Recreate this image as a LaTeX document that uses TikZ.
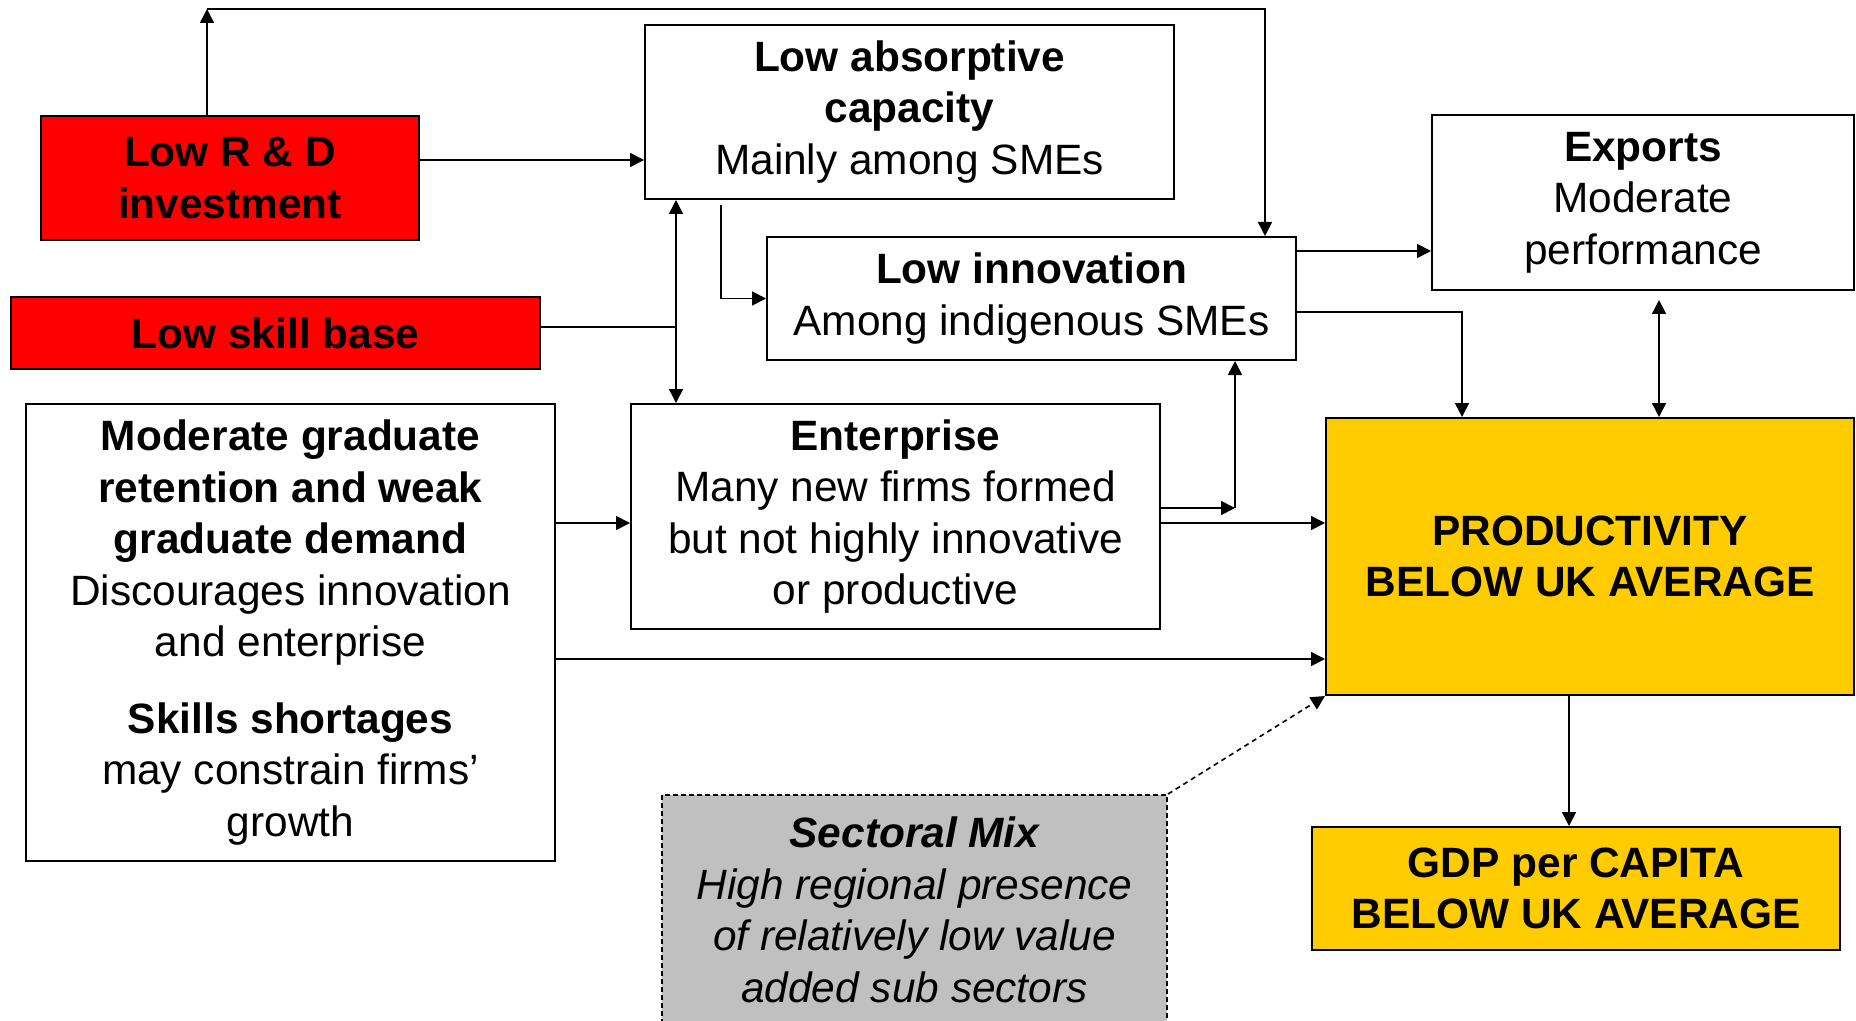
\documentclass[tikz,border=0pt]{standalone}
\usepackage{fontspec}
\setmainfont{Liberation Sans}
\usepackage{xcolor}
\usepackage{tikz}
\usetikzlibrary{arrows.meta, positioning, calc}
\definecolor{alertred}{RGB}{255, 0, 0}
\definecolor{goldyellow}{RGB}{255, 204, 0}
\definecolor{mixgray}{RGB}{192, 192, 192}

\begin{document}
\begin{tikzpicture}[
    x=0.5pt, y=-0.5pt,
    box/.style={rectangle, draw=black, line width=1pt, inner sep=0pt, align=center, font=\fontsize{21.2}{25.75}\selectfont},
    arrow/.style={-{Triangle[length=7pt, width=7pt]}, line width=0.8pt},
    dblarrow/.style={{Triangle[length=7pt, width=7pt]}-{Triangle[length=7pt, width=7pt]}, line width=0.8pt},
    link/.style={line width=0.8pt}
]
    \useasboundingbox (0,0) rectangle (1856,1021);

    % Causes on the left
    \node[box, fill=alertred, minimum width=189pt, minimum height=62pt] (rd) at (230,178) {\textbf{Low R \& D}\\\textbf{investment}};
    \node[box, fill=alertred, minimum width=264.5pt, minimum height=36pt] (skill) at (275.5,333) {\textbf{Low skill base}};
    \node[box, fill=white, minimum width=264.5pt, minimum height=228.5pt] (grad) at (290.5,632.5) {\textbf{Moderate graduate}\\\textbf{retention and weak}\\\textbf{graduate demand}\\Discourages innovation\\and enterprise\\[12.5pt]\textbf{Skills shortages}\\may constrain firms'\\growth};

    % Middle column
    \node[box, fill=white, minimum width=264.5pt, minimum height=87pt] (absorb) at (909.5,112) {\textbf{Low absorptive}\\\textbf{capacity}\\Mainly among SMEs};
    \node[box, fill=white, minimum width=264.5pt, minimum height=61.5pt] (lowinn) at (1031.5,298.5) {\textbf{Low innovation}\\Among indigenous SMEs};
    \node[box, fill=white, minimum width=264.5pt, minimum height=112.5pt] (ent) at (895.5,516.5) {\textbf{Enterprise}\\Many new firms formed\\but not highly innovative\\or productive};
    \node[box, fill=mixgray, dash pattern=on 2.5pt off 1.5pt, minimum width=252.5pt, minimum height=115pt,
          font=\fontsize{21.2}{25.75}\selectfont\itshape] (sector) at (914.5,910) {\textbf{Sectoral Mix}\\High regional presence\\of relatively low value\\added sub sectors};

    % Outcomes on the right
    \node[box, fill=white, minimum width=211pt, minimum height=87.5pt] (exports) at (1643,202.5) {\textbf{Exports}\\Moderate\\performance};
    \node[box, fill=goldyellow, minimum width=264pt, minimum height=138.5pt] (prod) at (1590,556.5) {\textbf{PRODUCTIVITY}\\\textbf{BELOW UK AVERAGE}};
    \node[box, fill=goldyellow, minimum width=264pt, minimum height=61.5pt] (gdp) at (1576,888.5) {\textbf{GDP per CAPITA}\\\textbf{BELOW UK AVERAGE}};

    % Turning points of the connectors
    \coordinate (topL) at (207,9);
    \coordinate (topR) at (1265,9);
    \coordinate (rdlvl) at (0,160);
    \coordinate (junction) at (676,327);
    \coordinate (absorbout) at (721,205);
    \coordinate (innlvl) at (0,251);
    \coordinate (innkink) at (1462,312);
    \coordinate (expx) at (1659,0);
    \coordinate (entkink) at (1235,508);
    \coordinate (entlvl) at (0,523);
    \coordinate (gradlvl) at (0,659);
    \coordinate (prodx) at (1569,0);

    % Arrows from R & D
    \draw[arrow] (topL |- rd.north) -- (topL);
    \draw[arrow] (topL) -- (topR) -- (topR |- lowinn.north);
    \draw[arrow] (rd.east |- rdlvl) -- (absorb.west |- rdlvl);

    % Skills link
    \draw[dblarrow] (junction |- absorb.south) -- (junction |- ent.north);
    \draw[link] (skill.east |- junction) -- (junction);

    % Arrows into innovation
    \draw[arrow] (absorbout) |- (lowinn.west);
    \draw[arrow] (ent.east |- entkink) -- (entkink);
    \draw[arrow] (entkink) -- (entkink |- lowinn.south);

    % Arrows out of innovation
    \draw[arrow] (lowinn.east |- innlvl) -- (exports.west |- innlvl);
    \draw[arrow] (lowinn.east |- innkink) -- (innkink) -- (innkink |- prod.north);
    \draw[dblarrow, shorten <=4.5pt] (expx |- exports.south) -- (expx |- prod.north);

    % Arrows into productivity
    \draw[arrow] (grad.east |- entlvl) -- (ent.west |- entlvl);
    \draw[arrow] (ent.east |- entlvl) -- (prod.west |- entlvl);
    \draw[arrow] (grad.east |- gradlvl) -- (prod.west |- gradlvl);
    \draw[arrow, dash pattern=on 2.5pt off 2pt] (sector.north east) -- (prod.south west);
    \draw[arrow] (prodx |- prod.south) -- (prodx |- gdp.north);

\end{tikzpicture}
\end{document}
